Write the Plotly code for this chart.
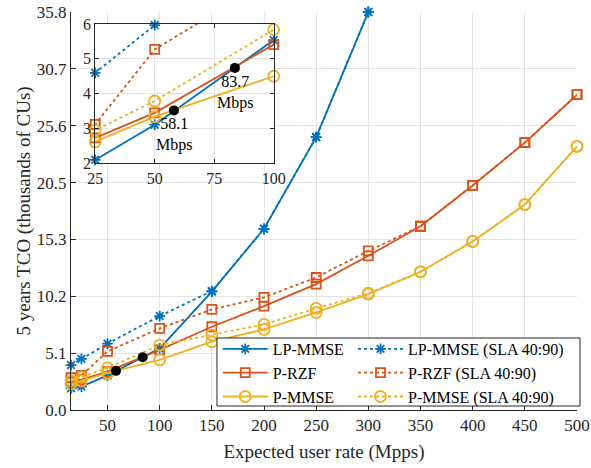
import numpy as np
import plotly.graph_objects as go

# ---------------- data (thousands of CUs) ----------------
x_p = [15, 25, 50, 100, 150, 200, 250, 300, 350, 400, 450, 500]
x_lp = [15, 25, 50, 100, 150, 200, 250, 300]

lp_mmse = [1.95, 2.10, 3.11, 5.54, 10.65, 16.30, 24.55, 35.80]
lp_mmse_sla = [4.04, 4.60, 5.97, 8.45, 10.70, 16.30, 24.55, 35.80]
p_rzf = [2.55, 2.73, 3.45, 5.41, 7.49, 9.34, 11.32, 13.87, 16.53, 20.20, 24.05, 28.36]
p_rzf_sla = [2.90, 3.12, 5.27, 7.34, 9.05, 10.13, 11.92, 14.31, 16.53, 20.20, 24.05, 28.36]
p_mmse = [2.35, 2.62, 3.34, 4.50, 6.14, 7.25, 8.78, 10.42, 12.43, 15.16, 18.48, 23.72]
p_mmse_sla = [2.60, 2.95, 3.79, 5.84, 6.74, 7.70, 9.14, 10.50, 12.43, 15.16, 18.48, 23.72]

cross_x = [58.1, 83.7]
cross_y = [3.52, 4.74]

x_ticks = [50, 100, 150, 200, 250, 300, 350, 400, 450, 500]
y_max = 35.8
y_ticktext = ["0.0", "5.1", "10.2", "15.3", "20.5", "25.6", "30.7", "35.8"]
inset_x_ticks = [25, 50, 75, 100]
inset_y_ticks = [2, 3, 4, 5, 6]

names = ["LP-MMSE", "LP-MMSE (SLA 40:90)", "P-RZF", "P-RZF (SLA 40:90)",
         "P-MMSE", "P-MMSE (SLA 40:90)"]

# ---------------- styles ----------------
BLUE, ORANGE, YELLOW = "#0072BD", "#D95319", "#EDB120"
FONT = "Liberation Serif"
INK = "#262626"
GRID = "#e3e3e3"

series = [
    (x_lp, lp_mmse, names[0], BLUE, "solid", "asterisk-open", 9, "legend"),
    (x_lp, lp_mmse_sla, names[1], BLUE, "dot", "asterisk-open", 9, "legend2"),
    (x_p, p_rzf, names[2], ORANGE, "solid", "square-open", 9, "legend"),
    (x_p, p_rzf_sla, names[3], ORANGE, "dot", "square-open", 9, "legend2"),
    (x_p, p_mmse, names[4], YELLOW, "solid", "circle-open", 11, "legend"),
    (x_p, p_mmse_sla, names[5], YELLOW, "dot", "circle-open", 11, "legend2"),
]

fig = go.Figure()

for (xs, ys, nm, col, dash, sym, sz, leg) in series:
    fig.add_trace(go.Scatter(
        x=xs, y=ys, name=nm, mode="lines+markers",
        line=dict(color=col, width=1.8, dash=dash),
        marker=dict(symbol=sym, size=sz, color=col, line=dict(color=col, width=1.8)),
        cliponaxis=False, legend=leg, xaxis="x", yaxis="y"))

fig.add_trace(go.Scatter(
    x=cross_x, y=cross_y, mode="markers", showlegend=False,
    marker=dict(color="black", size=10), xaxis="x", yaxis="y"))

for (xs, ys, nm, col, dash, sym, sz, leg) in series:
    fig.add_trace(go.Scatter(
        x=xs, y=ys, name=nm, mode="lines+markers", showlegend=False,
        line=dict(color=col, width=1.8, dash=dash),
        marker=dict(symbol=sym, size=sz, color=col, line=dict(color=col, width=1.8)),
        cliponaxis=False, xaxis="x2", yaxis="y2"))

fig.add_trace(go.Scatter(
    x=cross_x, y=cross_y, mode="markers", showlegend=False,
    marker=dict(color="black", size=10), cliponaxis=False, xaxis="x2", yaxis="y2"))

for cx, cy in zip(cross_x, cross_y):
    fig.add_annotation(x=cx, y=cy, xref="x2", yref="y2", text=f"{cx}<br>Mbps",
                       showarrow=False, yanchor="top", xanchor="center", yshift=-3,
                       font=dict(family=FONT, size=16, color="black"))

tick_font = dict(family=FONT, size=17, color=INK)
inset_font = dict(family=FONT, size=16, color=INK)

fig.update_layout(
    width=591, height=468,
    margin=dict(l=71, r=14, t=12, b=58, autoexpand=False),
    paper_bgcolor="white", plot_bgcolor="white",
    font=dict(family=FONT, color=INK),
    xaxis=dict(range=[15, 500], tickvals=x_ticks, ticks="inside", ticklen=5,
               tickcolor=INK, showline=True, linecolor=INK, linewidth=1,
               showgrid=True, gridcolor=GRID, zeroline=False, tickfont=tick_font,
               title=dict(text="Expected user rate (Mpps)",
                          font=dict(family=FONT, size=19, color=INK), standoff=10)),
    yaxis=dict(range=[0, y_max], tickvals=list(np.linspace(0, y_max, len(y_ticktext))),
               ticktext=y_ticktext, ticks="inside", ticklen=5, tickcolor=INK,
               showline=True, linecolor=INK, linewidth=1, showgrid=True,
               gridcolor=GRID, zeroline=False, tickfont=tick_font,
               title=dict(text="5 years TCO (thousands of CUs)",
                          font=dict(family=FONT, size=19, color=INK), standoff=1)),
    xaxis2=dict(domain=[0.0478, 0.4006], anchor="y2", range=[25, 100],
                tickvals=inset_x_ticks, ticks="inside", ticklen=4, tickcolor=INK,
                showline=True, mirror="ticks", linecolor=INK, linewidth=1,
                showgrid=True, gridcolor=GRID, zeroline=False, tickfont=inset_font),
    yaxis2=dict(domain=[0.6198, 0.9698], anchor="x2", range=[2, 6],
                tickvals=inset_y_ticks, ticks="inside", ticklen=4, tickcolor=INK,
                showline=True, mirror="ticks", linecolor=INK, linewidth=1,
                showgrid=True, gridcolor=GRID, zeroline=False, tickfont=inset_font),
    legend=dict(x=0.290, y=0.196, xanchor="left", yanchor="top",
                bgcolor="rgba(0,0,0,0)", borderwidth=0, itemwidth=45,
                font=dict(family=FONT, size=16, color="black")),
    legend2=dict(x=0.5573, y=0.196, xanchor="left", yanchor="top",
                 bgcolor="rgba(0,0,0,0)", borderwidth=0, itemwidth=45,
                 font=dict(family=FONT, size=16, color="black")),
    shapes=[dict(type="rect", xref="paper", yref="paper", x0=0.2885, x1=1.0059,
                 y0=0.01, y1=0.1809, fillcolor="white",
                 line=dict(color=INK, width=1), layer="above")],
)

fig.write_html("out.html")
